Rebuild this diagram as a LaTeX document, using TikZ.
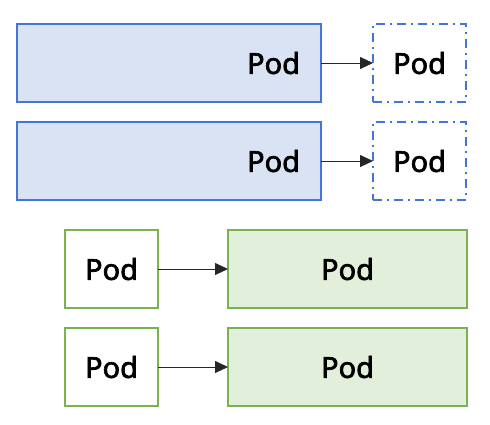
\documentclass[tikz,border=0pt]{standalone}
\usepackage{fontspec}
\setmainfont{Noto Sans}
\newfontfamily\podfont{Noto Sans}[FakeBold=2.2]
\usetikzlibrary{positioning,arrows.meta}
\definecolor{blueline}{HTML}{4276DA}
\definecolor{bluefill}{HTML}{DAE3F3}
\definecolor{greenline}{HTML}{78B350}
\definecolor{greenfill}{HTML}{E2EFDA}

\begin{document}
\begin{tikzpicture}[x=1pt,y=-1pt,
			      every node/.style={rectangle, draw, line width=1.5pt, minimum height=78pt,
				      inner sep=0pt, outer sep=0pt, font=\podfont\fontsize{29}{34}\selectfont\bfseries},
			      oldrs/.style={draw=blueline, fill=bluefill, minimum width=304pt,
				      text width=262pt, align=right},
			      newpod/.style={draw=blueline, dash pattern=on 9pt off 5pt on 2pt off 5pt, minimum width=93pt},
			      oldpod/.style={draw=greenline, minimum width=93pt},
			      newrs/.style={draw=greenline, fill=greenfill, minimum width=239pt},
			      move/.style={draw=black!85, line width=0.8pt, -{Triangle[length=13pt,width=12pt]}}]
		      \useasboundingbox (0,0) rectangle (490,424);
		      % scaling up: old pods on the left, new ones on the right
		      \node[oldrs] (rs1) at (169,63) {Pod};
		      \node[newpod, right=52pt of rs1] (pod1) {Pod};
		      \node[oldrs, below=20pt of rs1] (rs2) {Pod};
		      \node[newpod, right=52pt of rs2] (pod2) {Pod};
		      % moved over
		      \node[oldpod] (old1) at (111.5,269) {Pod};
		      \node[newrs, right=70pt of old1] (rs3) {Pod};
		      \node[oldpod, below=20pt of old1] (old2) {Pod};
		      \node[newrs, right=70pt of old2] (rs4) {Pod};
		      \draw[move] (rs1) -- (pod1);
		      \draw[move] (rs2) -- (pod2);
		      \draw[move] (old1) -- (rs3);
		      \draw[move] (old2) -- (rs4);
	      \end{tikzpicture}
\end{document}
